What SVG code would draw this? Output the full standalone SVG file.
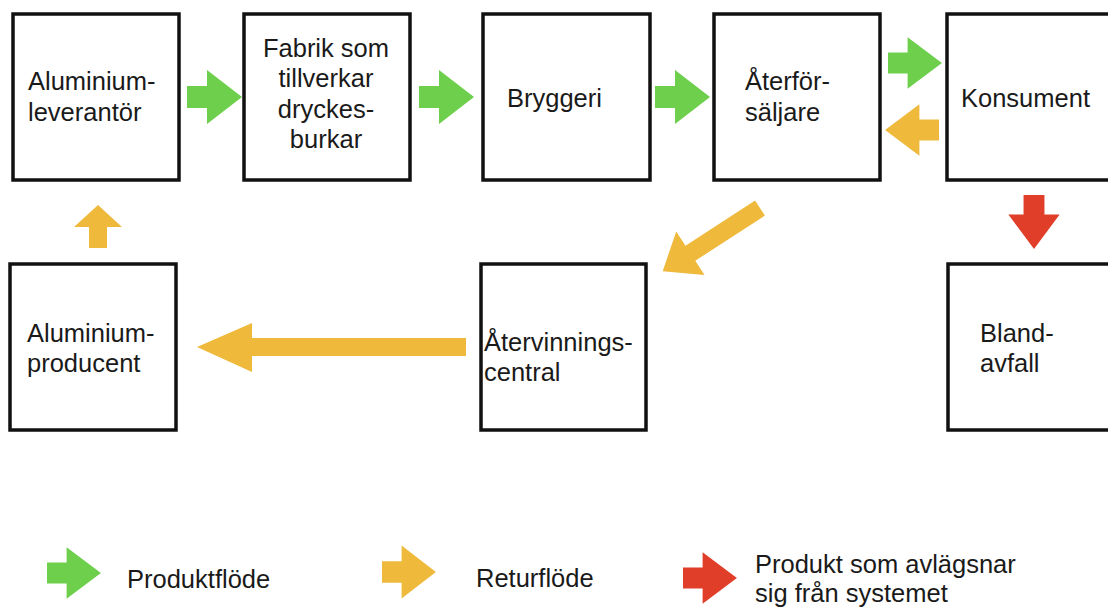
<svg xmlns="http://www.w3.org/2000/svg" width="1108" height="609" viewBox="0 0 1108 609">
  <style>
    .box { fill: #ffffff; stroke: #111111; stroke-width: 3.5; }
    .lbl { font-family: "Liberation Sans", Arial, Helvetica, sans-serif; font-size: 25.5px; fill: #1a1a1a; }
    .green { fill: #6dcf4c; }
    .yellow { fill: #efb93b; }
    .red { fill: #e03e29; }
  </style>
  <defs>
    <!-- block arrow pointing right, tail at origin -->
    <path id="arr" d="M0,-11 H20 V-27 L55,0 L20,27 V11 H0 Z"/>
  </defs>

  <rect width="1108" height="609" fill="#ffffff"/>

  <!-- top row -->
  <g id="n-leverantor">
    <rect class="box" x="13" y="14" width="166" height="166"/>
    <text class="lbl" x="28" y="90">Aluminium-</text>
    <text class="lbl" x="28" y="121">leverantör</text>
  </g>
  <g id="n-fabrik">
    <rect class="box" x="244" y="14" width="166" height="166"/>
    <text class="lbl" text-anchor="middle" x="326" y="57">Fabrik som</text>
    <text class="lbl" text-anchor="middle" x="326" y="87">tillverkar</text>
    <text class="lbl" text-anchor="middle" x="326" y="118">dryckes-</text>
    <text class="lbl" text-anchor="middle" x="326" y="148">burkar</text>
  </g>
  <g id="n-bryggeri">
    <rect class="box" x="483" y="14" width="167" height="166"/>
    <text class="lbl" x="507" y="107">Bryggeri</text>
  </g>
  <g id="n-aterforsaljare">
    <rect class="box" x="714" y="14" width="166" height="166"/>
    <text class="lbl" x="745" y="90">Återför-</text>
    <text class="lbl" x="745" y="121">säljare</text>
  </g>
  <g id="n-konsument">
    <rect class="box" x="947" y="14" width="170" height="166"/>
    <text class="lbl" x="961" y="107">Konsument</text>
  </g>

  <!-- bottom row -->
  <g id="n-producent">
    <rect class="box" x="10" y="264" width="166" height="166"/>
    <text class="lbl" x="27" y="342">Aluminium-</text>
    <text class="lbl" x="27" y="372">producent</text>
  </g>
  <g id="n-atervinning">
    <rect class="box" x="481" y="264" width="165" height="166"/>
    <text class="lbl" x="484" y="351">Återvinnings-</text>
    <text class="lbl" x="484" y="381">central</text>
  </g>
  <g id="n-blandavfall">
    <rect class="box" x="948" y="264" width="170" height="166"/>
    <text class="lbl" x="980" y="342">Bland-</text>
    <text class="lbl" x="980" y="372">avfall</text>
  </g>

  <!-- flows -->
  <g id="connectors">
    <use href="#arr" class="green" transform="translate(187,97)"/>
    <use href="#arr" class="green" transform="translate(419,97)"/>
    <use href="#arr" class="green" transform="translate(655,97)"/>
    <use href="#arr" class="green" transform="translate(888,63) scale(0.98,0.95)"/>
    <use href="#arr" class="yellow" transform="translate(939,130) rotate(180) scale(0.98,0.95)"/>
    <use href="#arr" class="red" transform="translate(1034,195) rotate(90) scale(0.98,0.95)"/>
    <polygon class="yellow" points="89,248 107,248 107,227 122,227 98,205 74,227 89,227"/>
    <polygon class="yellow" points="466,338 252,338 252,323 197,347 252,372 252,356 466,356"/>
    <polygon class="yellow" transform="translate(760,208) rotate(147)" points="0,-9 83,-9 83,-26 116,0 83,26 83,9 0,9"/>
  </g>

  <!-- legend -->
  <g id="legend">
    <use href="#arr" class="green" transform="translate(47,573) scale(0.98,0.95)"/>
    <text class="lbl" x="127" y="588">Produktflöde</text>
    <use href="#arr" class="yellow" transform="translate(382,572) scale(0.98,0.98)"/>
    <text class="lbl" x="476" y="587">Returflöde</text>
    <use href="#arr" class="red" transform="translate(683,578) scale(0.98,0.95)"/>
    <text class="lbl" x="755" y="573">Produkt som avlägsnar</text>
    <text class="lbl" x="755" y="602">sig från systemet</text>
  </g>
</svg>
